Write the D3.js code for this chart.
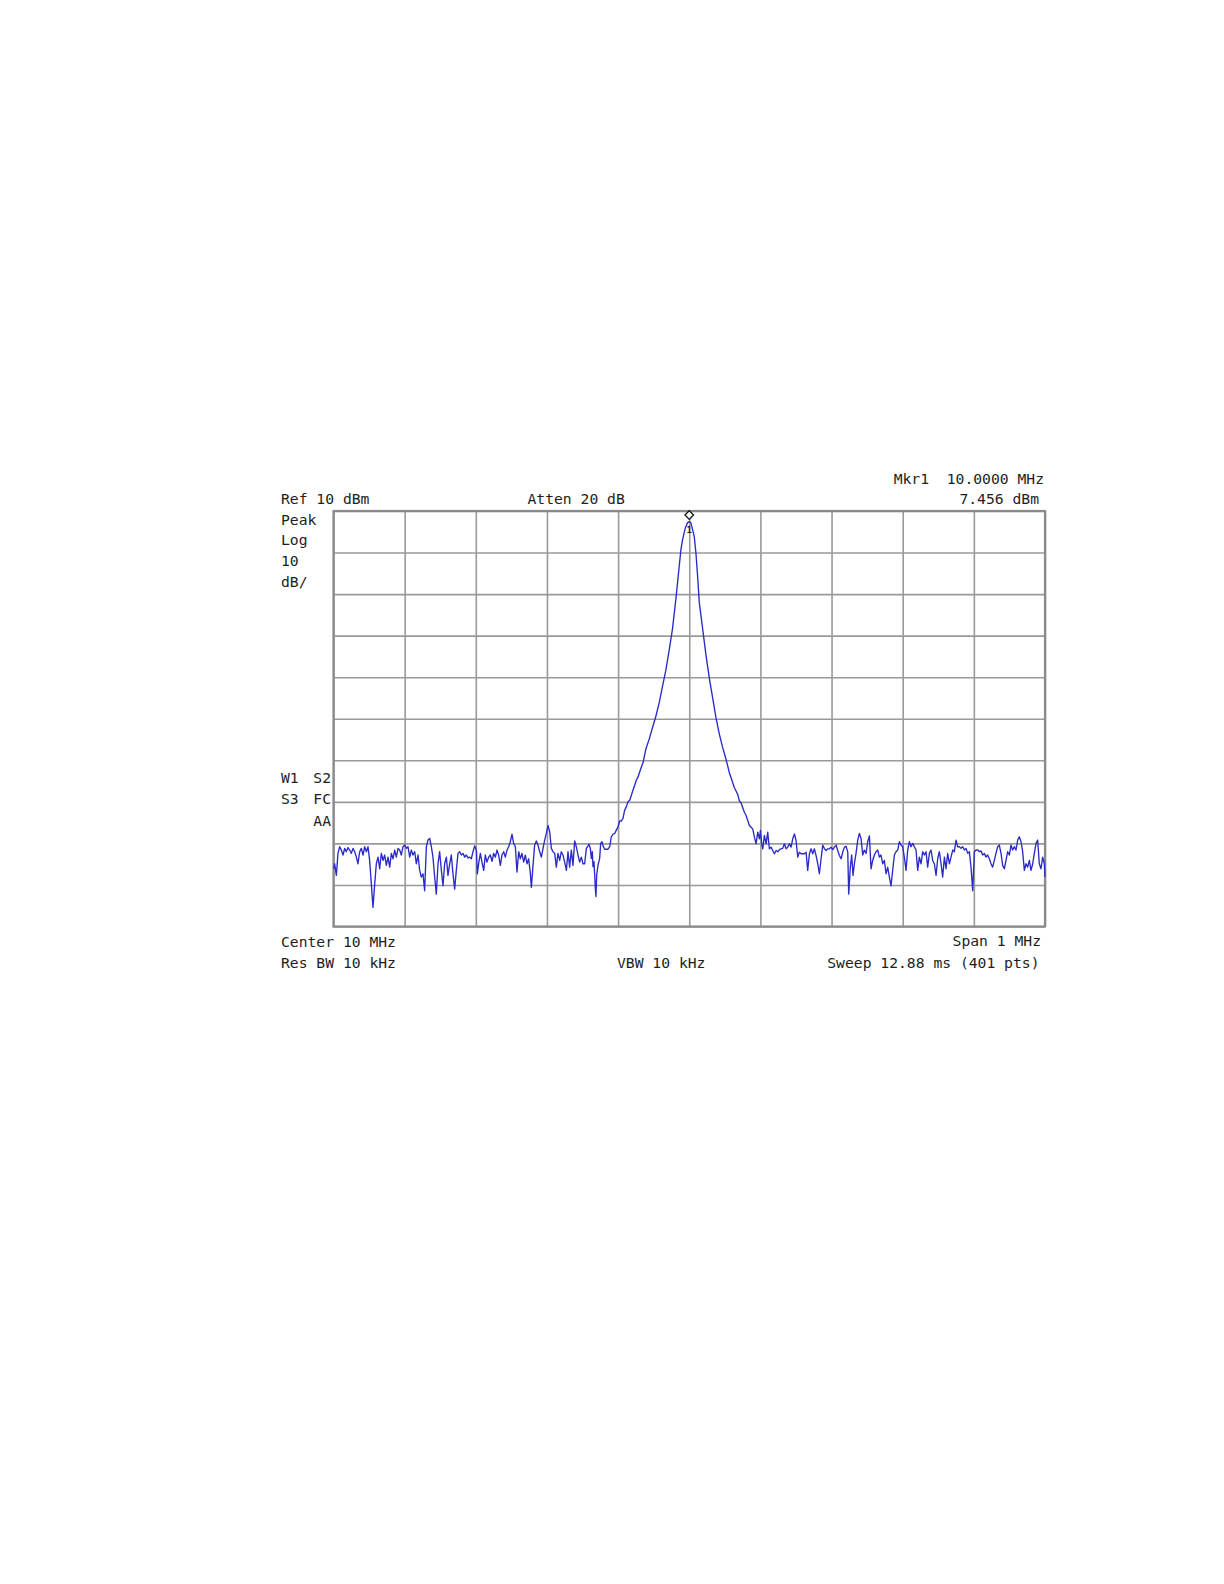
<!DOCTYPE html>
<html><head><meta charset="utf-8">
<script src="https://cdn.jsdelivr.net/npm/d3@7"></script>
<style>
body{margin:0;background:#fff}
text{font-family:"DejaVu Sans Mono",monospace;fill:#1e1e1e;white-space:pre}
</style>
</head><body>
<svg id="c" width="1224" height="1584"></svg>
<script>
// ---- instrument settings / labels ----
const refLabel = "Ref 10 dBm";
const attenLabel = "Atten 20 dB";
const markerLabel = "Mkr1  10.0000 MHz";
const markerLevelLabel = "7.456 dBm";
const scaleLabels = ["Peak", "Log", "10", "dB/"];
const statusLeft = ["W1", "S3", ""];
const statusRight = ["S2", "FC", "AA"];
const footerLeft = ["Center 10 MHz", "Res BW 10 kHz"];
const footerMid = "VBW 10 kHz";
const footerRight = ["Span 1 MHz", "Sweep 12.88 ms (401 pts)"];
const freqDomainMHz = [9.5, 10.5];
const levelDomainDbm = [-90, 10];
const markerFreqMHz = 10.0;
const markerLevelDbm = 7.456;
const markerId = "1";

// ---- trace readings [MHz, dBm] ----
const noiseLeft = [[9.5002,-76.1],[9.5016,-74.9],[9.5040,-77.7],[9.5063,-72.4],[9.5087,-70.8],[9.5110,-71.6],[9.5134,-72.8],[9.5157,-71.2],[9.5180,-72.0],[9.5204,-71.0],[9.5227,-71.6],[9.5251,-72.4],[9.5274,-71.2],[9.5298,-72.0],[9.5321,-73.3],[9.5344,-74.9],[9.5368,-72.0],[9.5391,-71.2],[9.5415,-72.8],[9.5438,-70.8],[9.5462,-72.0],[9.5485,-70.8],[9.5508,-74.1],[9.5532,-79.8],[9.5555,-85.4],[9.5579,-79.8],[9.5602,-74.9],[9.5626,-73.3],[9.5649,-76.1],[9.5672,-72.4],[9.5696,-74.1],[9.5719,-72.8],[9.5743,-75.3],[9.5766,-73.3],[9.5790,-75.7],[9.5813,-72.4],[9.5836,-73.7],[9.5860,-71.6],[9.5883,-73.3],[9.5907,-71.2],[9.5930,-71.6],[9.5953,-72.8],[9.5977,-70.8],[9.6000,-70.4],[9.6024,-71.2],[9.6047,-70.8],[9.6071,-73.3],[9.6094,-71.6],[9.6117,-72.8],[9.6141,-72.0],[9.6164,-74.9],[9.6188,-72.8],[9.6211,-76.5],[9.6234,-78.1],[9.6258,-77.3],[9.6281,-81.4],[9.6305,-70.8],[9.6328,-69.2],[9.6352,-68.8],[9.6375,-70.8],[9.6398,-73.3],[9.6422,-78.1],[9.6445,-82.2],[9.6469,-74.9],[9.6492,-72.0],[9.6516,-76.5],[9.6539,-80.2],[9.6562,-74.9],[9.6586,-73.3],[9.6609,-77.7],[9.6633,-74.9],[9.6656,-72.8],[9.6679,-77.3],[9.6703,-81.0],[9.6726,-76.5],[9.6750,-72.4],
[9.6773,-72.0],[9.6797,-72.8],[9.6820,-72.4],[9.6844,-73.3],[9.6867,-72.8],[9.6890,-73.5],[9.6914,-73.3],[9.6937,-73.7],[9.6961,-72.0],[9.6984,-70.6],[9.7008,-71.6],[9.7022,-77.3],[9.7040,-74.9],[9.7064,-72.4],[9.7087,-74.5],[9.7111,-76.5],[9.7134,-72.8],[9.7157,-74.5],[9.7181,-73.3],[9.7204,-72.8],[9.7228,-74.3],[9.7251,-72.4],[9.7275,-73.3],[9.7298,-71.6],[9.7321,-72.8],[9.7345,-75.3],[9.7368,-72.8],[9.7392,-72.0],[9.7415,-73.3],[9.7439,-71.6],[9.7462,-70.8],[9.7485,-69.6],[9.7509,-67.8],[9.7532,-70.0],[9.7556,-70.8],[9.7579,-76.9],[9.7603,-72.0],[9.7626,-73.7],[9.7649,-72.4],[9.7673,-74.5],[9.7696,-72.8],[9.7720,-74.9],[9.7743,-73.7],[9.7767,-77.3],[9.7781,-80.6],[9.7804,-75.3],[9.7827,-70.4],[9.7851,-69.4],[9.7874,-70.4],[9.7898,-72.0],[9.7921,-73.3],[9.7945,-71.2],[9.7968,-69.2],[9.7991,-67.6],[9.8015,-65.7],[9.8038,-67.2],[9.8062,-71.2],[9.8085,-72.0],[9.8109,-72.4],[9.8132,-75.7],[9.8155,-72.4],[9.8179,-74.1],[9.8202,-72.0],[9.8226,-72.8],[9.8249,-74.5],[9.8273,-76.5],[9.8296,-72.0],[9.8319,-75.7],[9.8343,-71.6],[9.8366,-75.3],[9.8390,-69.4],[9.8413,-70.8],[9.8437,-72.8],[9.8460,-74.5],[9.8483,-73.3],[9.8507,-74.9],[9.8530,-74.9],[9.8554,-71.2],[9.8577,-70.6]];

const risingEdge = [[9.8591,-70.2],[9.8610,-71.2],[9.8624,-73.6],[9.8638,-72.0],[9.8647,-75.6],[9.8661,-74.4],[9.8671,-77.6],[9.8680,-80.8],[9.8689,-82.8],[9.8699,-77.6],[9.8718,-75.2],[9.8741,-73.6],[9.8755,-70.0],[9.8774,-69.6],[9.8788,-70.6],[9.8811,-71.4],[9.8835,-71.4],[9.8858,-71.4],[9.8882,-70.8],[9.8905,-68.4],[9.8928,-67.8],[9.8952,-67.6],[9.8975,-66.8],[9.8999,-66.0],[9.9022,-64.6],[9.9046,-64.6],[9.9069,-64.0],[9.9092,-62.0],[9.9116,-61.2],[9.9139,-60.0],[9.9163,-59.6],[9.9186,-58.4],[9.9209,-57.2],[9.9233,-56.0],[9.9256,-54.8],[9.9280,-54.0],[9.9303,-52.8],[9.9327,-51.6],[9.9350,-50.6]];

const carrierPeak = [[9.9390,-47.3],[9.9437,-44.9],[9.9484,-42.1],[9.9531,-39.4],[9.9577,-36.2],[9.9624,-32.2],[9.9671,-28.3],[9.9718,-23.5],[9.9765,-18.3],[9.9812,-11.2],[9.9859,-3.3],[9.9883,0.7],[9.9906,3.1],[9.9944,5.9],[9.9977,7.2],[10.0000,7.456],[10.0023,7.1],[10.0047,5.5],[10.0070,3.9],[10.0094,-0.1],[10.0117,-5.6],[10.0141,-12.0],[10.0188,-18.3],[10.0235,-24.7],[10.0282,-30.2],[10.0329,-35.0],[10.0376,-39.8],[10.0423,-43.7],[10.0469,-46.9],[10.0516,-49.7]];

const fallingEdge = [[10.0541,-51.4],[10.0564,-53.0],[10.0588,-54.2],[10.0611,-55.4],[10.0635,-56.6],[10.0658,-57.4],[10.0681,-58.2],[10.0705,-59.8],[10.0728,-60.2],[10.0752,-61.4],[10.0775,-62.5],[10.0799,-63.3],[10.0822,-64.5],[10.0845,-65.7],[10.0869,-66.1],[10.0892,-66.5],[10.0916,-68.5],[10.0939,-70.1],[10.0963,-67.3],[10.0986,-68.9],[10.1000,-66.9],[10.1019,-70.1],[10.1033,-71.3],[10.1056,-68.1],[10.1080,-70.1],[10.1103,-67.3],[10.1126,-71.3],[10.1150,-70.9],[10.1173,-71.7],[10.1197,-72.5],[10.1220,-71.7],[10.1244,-72.0],[10.1267,-71.5],[10.1290,-71.3],[10.1314,-71.2],[10.1337,-70.1],[10.1361,-71.3],[10.1384,-70.9],[10.1408,-70.1],[10.1431,-70.9],[10.1454,-68.9],[10.1478,-67.7],[10.1501,-69.3],[10.1525,-73.3],[10.1548,-72.1],[10.1572,-72.5],[10.1595,-72.5],[10.1618,-72.5],[10.1642,-72.1],[10.1665,-76.5],[10.1689,-72.5],[10.1712,-71.3],[10.1736,-72.5],[10.1759,-71.3],[10.1782,-72.9],[10.1806,-74.9],[10.1829,-77.3],[10.1853,-73.7],[10.1876,-70.4],[10.1900,-71.3],[10.1923,-71.7],[10.1946,-71.3],[10.1970,-71.3],[10.1993,-70.9],[10.2017,-71.5],[10.2040,-70.9],[10.2064,-70.4],[10.2087,-71.7],[10.2110,-72.9],[10.2134,-73.7],[10.2157,-72.1],[10.2181,-70.9],[10.2204,-70.7],[10.2228,-72.1]];

const noiseRight = [[10.2241,-82.2],[10.2264,-75.7],[10.2283,-72.8],[10.2302,-77.7],[10.2321,-74.9],[10.2344,-72.4],[10.2368,-69.2],[10.2391,-67.6],[10.2414,-68.8],[10.2438,-72.8],[10.2461,-71.6],[10.2485,-72.4],[10.2508,-69.6],[10.2532,-68.2],[10.2555,-76.1],[10.2578,-74.1],[10.2602,-72.8],[10.2625,-72.0],[10.2649,-71.6],[10.2672,-73.3],[10.2695,-72.8],[10.2719,-74.9],[10.2742,-74.1],[10.2766,-77.3],[10.2789,-75.7],[10.2813,-78.1],[10.2836,-80.2],[10.2859,-76.5],[10.2883,-72.8],[10.2906,-72.0],[10.2930,-71.6],[10.2953,-69.6],[10.2977,-70.4],[10.3000,-70.8],[10.3023,-73.3],[10.3047,-76.5],[10.3070,-71.6],[10.3094,-69.6],[10.3117,-70.8],[10.3141,-70.0],[10.3164,-70.8],[10.3187,-71.6],[10.3211,-76.5],[10.3234,-73.3],[10.3258,-74.9],[10.3281,-72.0],[10.3305,-72.8],[10.3328,-72.0],[10.3351,-75.7],[10.3375,-72.4],[10.3398,-71.6],[10.3422,-74.1],[10.3445,-74.9],[10.3469,-77.7],[10.3492,-73.7],[10.3515,-72.0],[10.3539,-74.9],[10.3562,-78.1],[10.3586,-73.3],[10.3609,-76.1],[10.3632,-72.4],[10.3656,-74.9],[10.3679,-73.3],[10.3703,-71.6],[10.3726,-72.0],[10.3750,-69.2],[10.3773,-70.8],[10.3796,-70.8],[10.3820,-71.2],[10.3843,-70.8],[10.3867,-71.6],[10.3890,-71.2],[10.3914,-72.4],[10.3937,-72.0],[10.3960,-75.7],[10.3984,-81.4],[10.4007,-72.0],[10.4031,-71.6],[10.4054,-71.6],
[10.4077,-72.0],[10.4100,-71.8],[10.4124,-72.8],[10.4147,-72.4],[10.4171,-73.3],[10.4194,-72.8],[10.4218,-73.7],[10.4241,-74.9],[10.4264,-75.7],[10.4288,-74.1],[10.4311,-72.4],[10.4335,-70.8],[10.4358,-70.4],[10.4382,-72.4],[10.4405,-75.3],[10.4428,-76.1],[10.4452,-74.1],[10.4475,-72.0],[10.4499,-72.8],[10.4522,-70.4],[10.4546,-71.6],[10.4569,-70.8],[10.4592,-71.6],[10.4616,-69.2],[10.4639,-68.4],[10.4663,-69.6],[10.4686,-72.0],[10.4710,-76.5],[10.4733,-74.9],[10.4756,-75.7],[10.4780,-74.1],[10.4803,-76.5],[10.4827,-74.9],[10.4850,-72.4],[10.4874,-70.0],[10.4897,-69.2],[10.4920,-74.9],[10.4944,-76.1],[10.4967,-73.3],[10.4991,-74.9],[10.5000,-78.1]];

// ---- layout ----
const L = 333.5, T = 511, W = 711.5, H = 415.5;
const svg = d3.select("#c");
const x = d3.scaleLinear().domain(freqDomainMHz).range([L, L + W]);
const y = d3.scaleLinear().domain(levelDomainDbm).range([T + H, T]);

// grid via axes
const gx = svg.append("g").attr("transform", `translate(0,${T + H})`)
  .call(d3.axisBottom(x).ticks(10).tickSize(-H).tickFormat(""));
const gy = svg.append("g").attr("transform", `translate(${L},0)`)
  .call(d3.axisLeft(y).ticks(10).tickSize(-W).tickFormat(""));
[gx, gy].forEach(g => {
  g.select(".domain").remove();
  g.selectAll(".tick line").attr("stroke", "#9a9a9a").attr("stroke-width", 1.6);
});

// border
svg.append("rect").attr("x", L).attr("y", T).attr("width", W).attr("height", H)
  .attr("fill", "none").attr("stroke", "#8a8a8a").attr("stroke-width", 2.2);

// trace
const trace = noiseLeft.concat(risingEdge, carrierPeak, fallingEdge, noiseRight);
svg.append("path").datum(trace)
  .attr("fill", "none").attr("stroke", "#2a2ac8").attr("stroke-width", 1.35)
  .attr("stroke-linejoin", "round")
  .attr("d", d3.line().x(d => x(d[0])).y(d => y(d[1])));

// marker
const mx = x(markerFreqMHz), my = y(markerLevelDbm) - 6.5;
svg.append("path")
  .attr("d", `M${mx},${my - 4.3}L${mx + 4.3},${my}L${mx},${my + 4.3}L${mx - 4.3},${my}Z`)
  .attr("fill", "#fff").attr("stroke", "#111").attr("stroke-width", 1.3);
svg.append("text").attr("x", mx).attr("y", y(markerLevelDbm) + 11.5)
  .attr("text-anchor", "middle").style("font-size", "9px").style("font-weight", "bold")
  .text(markerId);

// text annotations
const fs = "14.7px";
function label(t, xx, yy, anchor) {
  svg.append("text").attr("x", xx).attr("y", yy).attr("text-anchor", anchor || "start")
    .style("font-size", fs).text(t);
}
label(refLabel, 281, 504.3);
label(attenLabel, 527.5, 504.3);
label(markerLabel, 1044, 483.5, "end");
label(markerLevelLabel, 1039, 503.5, "end");
scaleLabels.forEach((t, i) => label(t, 281, 524.5 + i * 20.7));
statusLeft.forEach((t, i) => label(t, 281, 782.7 + i * 21.5));
statusRight.forEach((t, i) => label(t, 331, 782.7 + i * 21.5, "end"));
footerLeft.forEach((t, i) => label(t, 281, 946.5 + i * 21.5));
label(footerMid, 617, 968);
label(footerRight[0], 1041, 946, "end");
label(footerRight[1], 1039.5, 968, "end");
</script>
</body></html>
